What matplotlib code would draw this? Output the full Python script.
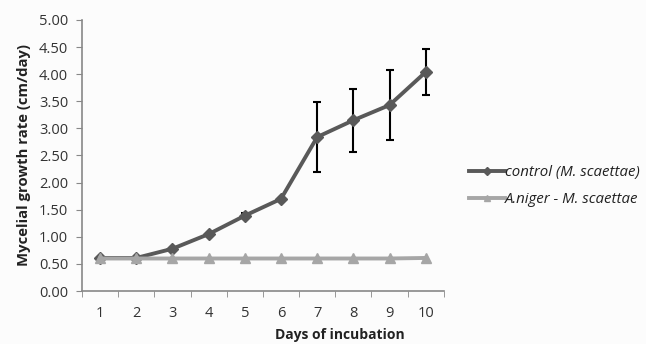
import matplotlib
matplotlib.use("Agg")
import matplotlib.pyplot as plt
import numpy as np

days = [1, 2, 3, 4, 5, 6, 7, 8, 9, 10]
control = [0.61, 0.61, 0.78, 1.05, 1.39, 1.70, 2.84, 3.15, 3.43, 4.04]
control_err = [0.0, 0.0, 0.0, 0.0, 0.05, 0.0, 0.65, 0.58, 0.65, 0.43]
aniger = [0.60, 0.60, 0.60, 0.60, 0.60, 0.60, 0.60, 0.60, 0.60, 0.61]
yticks = [0, 0.5, 1, 1.5, 2, 2.5, 3, 3.5, 4, 4.5, 5]

plt.rcParams['font.family'] = ['Open Sans', 'DejaVu Sans']

fig = plt.figure(figsize=(6.46, 3.44), dpi=100, facecolor='#fcfcfc')
ax = fig.add_axes([0.127, 0.154, 0.56, 0.788], facecolor='#fcfcfc')

x = np.array(days)
ax.errorbar(x, control, yerr=control_err, fmt='none', ecolor='black',
            elinewidth=1.5, capsize=3, capthick=1.5, zorder=2)
ax.plot(x, control, color='#595959', lw=2.8, marker='D', ms=6,
        label='control (M. scaettae)', zorder=3)
ax.plot(x, aniger, color='#a6a6a6', lw=2.8, marker='^', ms=7,
        label='A.niger - M. scaettae', zorder=3)

ax.set_xlim(0.5, 10.5)
ax.set_ylim(0, 5)
ax.set_yticks(yticks)
ax.set_yticklabels([f"{v:.2f}" for v in yticks], fontsize=10.5, color='#333333')
ax.set_xticks(x)
ax.set_xticklabels([str(d) for d in days], fontsize=10.5, color='#333333')
ax.set_xticks(np.arange(0.5, 11, 1), minor=True)
ax.tick_params(axis='x', which='major', length=0, pad=11)
ax.tick_params(axis='x', which='minor', length=4, color='#888888', direction='out')
ax.tick_params(axis='y', length=4, color='#888888', direction='out', pad=6)

for s in ['top', 'right']:
    ax.spines[s].set_visible(False)
for s in ['left', 'bottom']:
    ax.spines[s].set_color('#888888')
    ax.spines[s].set_linewidth(1.2)

ax.set_ylabel('Mycelial growth rate (cm/day)', fontsize=10.7, fontweight='bold', color='#222222')
ax.yaxis.set_label_coords(-0.142, 0.5)
ax.set_xlabel('Days of incubation', fontsize=10, fontweight='bold', color='#222222')
ax.xaxis.set_label_coords(0.713, -0.135)

leg = fig.legend(loc='upper left', bbox_to_anchor=(0.705, 0.56), frameon=False,
                 prop={'size': 10.8, 'style': 'italic'}, handlelength=2.4,
                 handletextpad=0.0, labelspacing=0.8, markerscale=0.7)
for t in leg.get_texts():
    t.set_color('#222222')

fig.savefig('out.png', dpi=100, facecolor=fig.get_facecolor())
